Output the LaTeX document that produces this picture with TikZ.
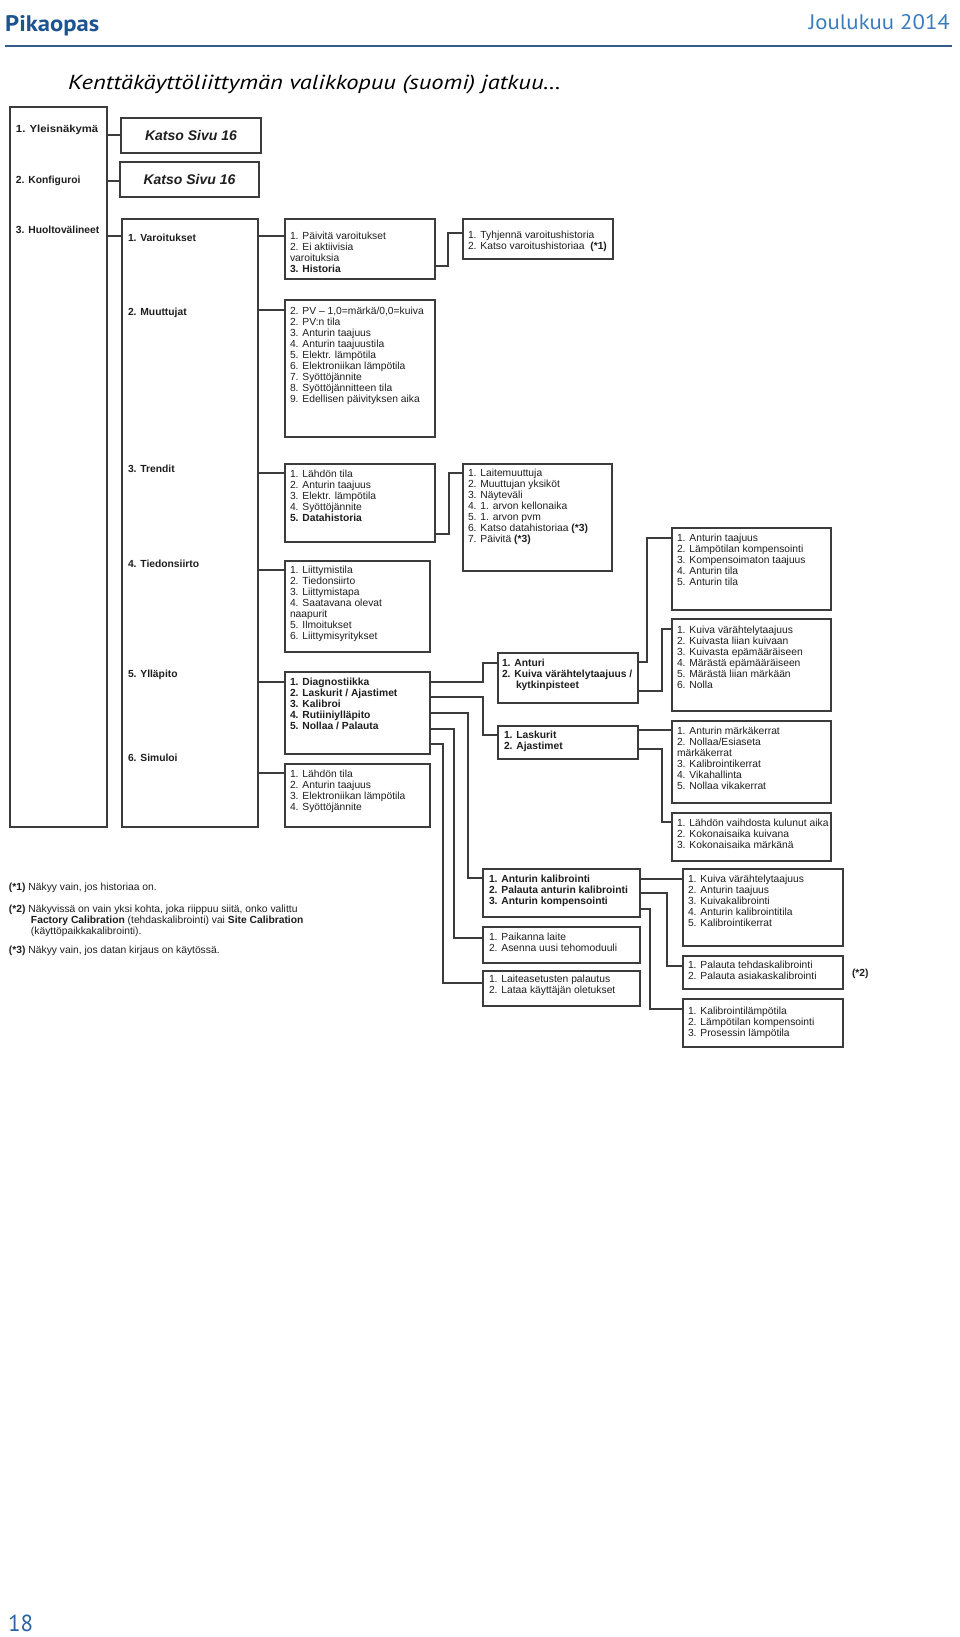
\documentclass[tikz,border=0pt]{standalone}
\usepackage{fontspec}
\setmainfont{Liberation Sans}
\newfontfamily\hdrfont{PT Sans}
\usetikzlibrary{fit}
\definecolor{hdrblue}{HTML}{1C5391}
\definecolor{dateblue}{HTML}{3A7BBE}
\definecolor{rulecol}{HTML}{345C88}
\definecolor{pagecol}{HTML}{2A62A0}
\definecolor{linecol}{HTML}{3C3C3C}
\definecolor{txtcol}{HTML}{1E1E1E}
\newcommand\strt{\rule{0pt}{8pt}}
\newcommand\bx[5]{\node[box,fit={(#2,#3) (#4,#5)}] (#1) {};}
\begin{document}
\begin{tikzpicture}[x=1pt,y=-1pt,
 box/.style={draw=linecol,line width=1.1pt,inner sep=0pt,outer sep=0pt,rectangle},
 txt/.style={anchor=north west,inner sep=0pt,outer sep=0pt,align=left,text=txtcol,font=\fontsize{10.3}{11}\selectfont},
 txtb/.style={txt,font=\fontsize{10.3}{11}\selectfont\bfseries},
 conn/.style={draw=linecol,line width=1.1pt}]
\useasboundingbox (0,0) rectangle (960,1637);

% header
\node[anchor=base west,inner sep=0pt,text=hdrblue] (pik) at (5,32) {\resizebox{94pt}{16pt}{\hdrfont\bfseries Pikaopas}};
\node[anchor=base east,inner sep=0pt,text=dateblue] (date) at (950,30) {\resizebox{141pt}{15pt}{\hdrfont Joulukuu 2014}};
\draw[rulecol,line width=2pt] (5,46) -- (952,46);
\node[anchor=base west,inner sep=0pt,text=black] (title) at (68,90) {\resizebox{493pt}{14.5pt}{\hdrfont\itshape Kenttäkäyttöliittymän valikkopuu (suomi) jatkuu…}};
\node[anchor=base west,inner sep=0pt,text=pagecol] (page) at (8,1631) {\resizebox{25pt}{16.5pt}{\hdrfont 18}};

% boxes
\bx{c1}{10}{107}{107}{827}
\bx{k1}{121}{118}{261}{153}
\bx{k2}{120}{162}{259}{197}
\bx{c2}{122}{219}{258}{827}
\bx{v1}{285}{219}{435}{279}
\bx{v2}{463}{219}{613}{259}
\bx{m1}{285}{300}{435}{437}
\bx{t1}{285}{464}{435}{542}
\bx{d1}{463}{464}{612}{571}
\bx{s1}{285}{561}{430}{652}
\bx{y1}{285}{672}{430}{754}
\bx{sim}{285}{764}{430}{827}
\bx{an}{498}{653}{638}{703}
\bx{la}{498}{726}{638}{759}
\bx{at}{672}{528}{831}{610}
\bx{kv}{672}{619}{831}{711}
\bx{mk}{672}{721}{831}{803}
\bx{lv}{672}{813}{831}{861}
\bx{ak}{483}{869}{640}{917}
\bx{pa}{483}{927}{640}{963}
\bx{lp}{483}{971}{640}{1006}
\bx{kc}{683}{869}{843}{946}
\bx{pt}{683}{956}{843}{989}
\bx{kl}{683}{999}{843}{1047}

% Katso texts
\node[inner sep=0pt,font=\fontsize{14}{16}\selectfont\bfseries\itshape,text=txtcol] (k1t) at (k1.center) {Katso Sivu 16};
\node[inner sep=0pt,font=\fontsize{14}{16}\selectfont\bfseries\itshape,text=txtcol] (k2t) at (k2.center) {Katso Sivu 16};

% column 1 labels
\node[txtb] (l1) at (16,129-4.3) {\strt\scalebox{1.1}[1]{1. Yleisnäkymä}};
\node[txtb] (l2) at (16,180-4.3) {\strt 2. Konfiguroi};
\node[txtb] (l3) at (16,230-4.3) {\strt 3. Huoltovälineet};

% column 2 labels
\node[txtb] (h1) at (128,238-4.3) {\strt 1. Varoitukset};
\node[txtb] (h2) at (128,312-4.3) {\strt 2. Muuttujat};
\node[txtb] (h3) at (128,469-4.3) {\strt 3. Trendit};
\node[txtb] (h4) at (128,564-4.3) {\strt 4. Tiedonsiirto};
\node[txtb] (h5) at (128,674-4.3) {\strt 5. Ylläpito};
\node[txtb] (h6) at (128,758-4.3) {\strt 6. Simuloi};

% column 3 texts
\node[txt] (v1t) at (290,236-4.3) {\strt 1. Päivitä varoitukset\\2. Ei aktiivisia\\varoituksia\\\textbf{3. Historia}};
\node[txt] (m1t) at (290,311-4.3) {\strt 2. PV – 1,0=märkä/0,0=kuiva\\2. PV:n tila\\3. Anturin taajuus\\4. Anturin taajuustila\\5. Elektr. lämpötila\\6. Elektroniikan lämpötila\\7. Syöttöjännite\\8. Syöttöjännitteen tila\\9. Edellisen päivityksen aika};
\node[txt] (t1t) at (290,474-4.3) {\strt 1. Lähdön tila\\2. Anturin taajuus\\3. Elektr. lämpötila\\4. Syöttöjännite\\\textbf{5. Datahistoria}};
\node[txt] (s1t) at (290,570-4.3) {\strt 1. Liittymistila\\2. Tiedonsiirto\\3. Liittymistapa\\4. Saatavana olevat\\naapurit\\5. Ilmoitukset\\6. Liittymisyritykset};
\node[txtb] (y1t) at (290,682-4.3) {\strt 1. Diagnostiikka\\2. Laskurit / Ajastimet\\3. Kalibroi\\4. Rutiiniylläpito\\5. Nollaa / Palauta};
\node[txt] (simt) at (290,774-4.3) {\strt 1. Lähdön tila\\2. Anturin taajuus\\3. Elektroniikan lämpötila\\4. Syöttöjännite};

% column 4 texts
\node[txt] (v2t) at (468,235-4.3) {\strt 1. Tyhjennä varoitushistoria\\2. Katso varoitushistoriaa \ \textbf{(*1)}};
\node[txt] (d1t) at (468,473-4.3) {\strt 1. Laitemuuttuja\\2. Muuttujan yksiköt\\3. Näyteväli\\4. 1. arvon kellonaika\\5. 1. arvon pvm\\6. Katso datahistoriaa \textbf{(*3)}\\7. Päivitä \textbf{(*3)}};
\node[txtb] (ant) at (502,663-4.3) {\strt 1. Anturi\\2. Kuiva värähtelytaajuus /\\\hspace*{14pt}kytkinpisteet};
\node[txtb] (lat) at (504,735-4.3) {\strt 1. Laskurit\\2. Ajastimet};
\node[txtb] (akt) at (489,879-4.3) {\strt 1. Anturin kalibrointi\\2. Palauta anturin kalibrointi\\3. Anturin kompensointi};
\node[txt] (pat) at (489,937-4.3) {\strt 1. Paikanna laite\\2. Asenna uusi tehomoduuli};
\node[txt] (lpt) at (489,979-4.3) {\strt 1. Laiteasetusten palautus\\2. Lataa käyttäjän oletukset};

% column 5 texts
\node[txt] (att) at (677,538-4.3) {\strt 1. Anturin taajuus\\2. Lämpötilan kompensointi\\3. Kompensoimaton taajuus\\4. Anturin tila\\5. Anturin tila};
\node[txt] (kvt) at (677,630-4.3) {\strt 1. Kuiva värähtelytaajuus\\2. Kuivasta liian kuivaan\\3. Kuivasta epämääräiseen\\4. Märästä epämääräiseen\\5. Märästä liian märkään\\6. Nolla};
\node[txt] (mkt) at (677,731-4.3) {\strt 1. Anturin märkäkerrat\\2. Nollaa/Esiaseta\\märkäkerrat\\3. Kalibrointikerrat\\4. Vikahallinta\\5. Nollaa vikakerrat};
\node[txt] (lvt) at (677,823-4.3) {\strt 1. Lähdön vaihdosta kulunut aika\\2. Kokonaisaika kuivana\\3. Kokonaisaika märkänä};

% column 6 texts
\node[txt] (kct) at (688,879-4.3) {\strt 1. Kuiva värähtelytaajuus\\2. Anturin taajuus\\3. Kuivakalibrointi\\4. Anturin kalibrointitila\\5. Kalibrointikerrat};
\node[txt] (ptt) at (688,965-4.3) {\strt 1. Palauta tehdaskalibrointi\\2. Palauta asiakaskalibrointi};
\node[txt] (klt) at (688,1011-4.3) {\strt 1. Kalibrointilämpötila\\2. Lämpötilan kompensointi\\3. Prosessin lämpötila};
\node[txtb] (n2) at (852,973-4.3) {\strt (*2)};

% footnotes
\node[txt] (f1) at (9,887-4.3) {\strt\textbf{(*1)} Näkyy vain, jos historiaa on.};
\node[txt] (f2) at (9,909-4.3) {\strt\textbf{(*2)} Näkyvissä on vain yksi kohta, joka riippuu siitä, onko valittu\\\hspace*{22pt}\textbf{Factory Calibration} (tehdaskalibrointi) vai \textbf{Site Calibration}\\\hspace*{22pt}(käyttöpaikkakalibrointi).};
\node[txt] (f3) at (9,950-4.3) {\strt\textbf{(*3)} Näkyy vain, jos datan kirjaus on käytössä.};

% connectors
\draw[conn] (c1.east|-0,135) -- (k1.west|-0,135);
\draw[conn] (c1.east|-0,181) -- (k2.west|-0,181);
\draw[conn] (c1.east|-0,236) -- (c2.west|-0,236);
\draw[conn] (c2.east|-0,236) -- (v1.west|-0,236);
\draw[conn] (v1.east|-0,266) -| (448,233) -- (v2.west|-0,233);
\draw[conn] (c2.east|-0,310) -- (m1.west|-0,310);
\draw[conn] (c2.east|-0,473) -- (t1.west|-0,473);
\draw[conn] (t1.east|-0,534) -| (449,473) -- (d1.west|-0,473);
\draw[conn] (c2.east|-0,570) -- (s1.west|-0,570);
\draw[conn] (c2.east|-0,682) -- (y1.west|-0,682);
\draw[conn] (c2.east|-0,773) -- (sim.west|-0,773);
\draw[conn] (y1.east|-0,682) -| (483,663) -- (an.west|-0,663);
\draw[conn] (y1.east|-0,697) -| (483,735) -- (la.west|-0,735);
\draw[conn] (y1.east|-0,713) -| (468,878) -- (ak.west|-0,878);
\draw[conn] (y1.east|-0,729) -| (454,938) -- (pa.west|-0,938);
\draw[conn] (y1.east|-0,744) -| (443,983) -- (lp.west|-0,983);
\draw[conn] (an.east|-0,662) -| (647,538) -- (at.west|-0,538);
\draw[conn] (an.east|-0,691) -| (662,629) -- (kv.west|-0,629);
\draw[conn] (la.east|-0,730) -- (mk.west|-0,730);
\draw[conn] (la.east|-0,749) -| (662,822) -- (lv.west|-0,822);
\draw[conn] (ak.east|-0,879) -- (kc.west|-0,879);
\draw[conn] (ak.east|-0,893) -| (667,966) -- (pt.west|-0,966);
\draw[conn] (ak.east|-0,909) -| (650,1009) -- (kl.west|-0,1009);
\end{tikzpicture}
\end{document}
